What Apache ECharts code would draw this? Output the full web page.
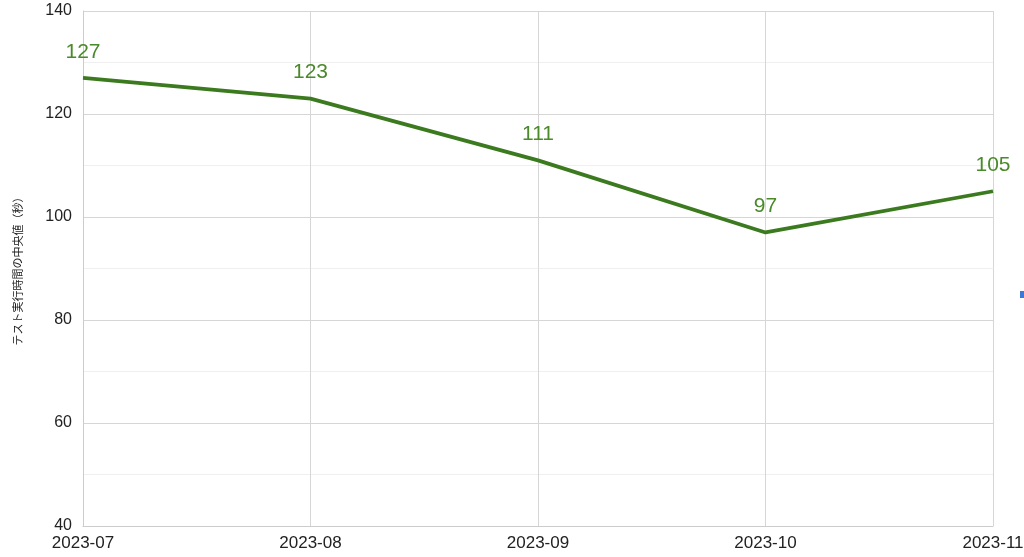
<!DOCTYPE html>
<html>
<head>
<meta charset="utf-8">
<style>html,body{margin:0;padding:0;background:#fff;}#c{width:1024px;height:557px;}</style>
<script src="https://cdn.jsdelivr.net/npm/echarts@6/dist/echarts.min.js"></script>
</head>
<body>
<div id="c"></div>
<script>
const categories = ['2023-07', '2023-08', '2023-09', '2023-10', '2023-11'];
const medianSeconds = [127, 123, 111, 97, 105];
const yAxisName = 'テスト実行時間の中央値（秒）';

const chart = echarts.init(document.getElementById('c'));
chart.setOption({
  animation: false,
  textStyle: { fontFamily: '"Liberation Sans", Arial, "Noto Sans CJK JP", sans-serif' },
  grid: { left: 83, right: 31, top: 11, bottom: 31, containLabel: false, outerBoundsMode: 'none' },
  xAxis: {
    type: 'category',
    data: categories,
    boundaryGap: false,
    axisLine: { show: true, lineStyle: { color: '#cccccc' } },
    axisTick: { show: false },
    axisLabel: { color: '#222', fontSize: 17, margin: 9 },
    splitLine: { show: true, lineStyle: { color: '#d6d6d6', width: 1 } }
  },
  yAxis: {
    type: 'value',
    min: 40, max: 140, interval: 20,
    name: yAxisName,
    nameLocation: 'middle',
    nameGap: 60,
    nameTextStyle: { color: '#222', fontSize: 11, fontFamily: '"Noto Sans CJK JP", sans-serif' },
    axisLine: { show: true, lineStyle: { color: '#cccccc' } },
    axisTick: { show: false },
    axisLabel: { color: '#222', fontSize: 16, margin: 11 },
    splitLine: { show: true, lineStyle: { color: '#d6d6d6', width: 1 } },
    minorTick: { show: false, splitNumber: 2 },
    minorSplitLine: { show: true, lineStyle: { color: '#efefef', width: 1 } }
  },
  series: [{
    type: 'line',
    data: medianSeconds,
    symbol: 'circle',
    symbolSize: 1,
    showSymbol: true,
    lineStyle: { color: '#3b7a1e', width: 3.8 },
    itemStyle: { color: 'rgba(0,0,0,0)', borderWidth: 0 },
    label: { show: true, position: 'top', distance: 15, color: '#4a8a2a', fontSize: 21 },
    labelLayout: { hideOverlap: false }
  }],
  graphic: [{
    type: 'rect', left: 1020, top: 291,
    shape: { width: 6, height: 7 },
    style: { fill: '#3c78d8' }
  }]
});
</script>
</body>
</html>
